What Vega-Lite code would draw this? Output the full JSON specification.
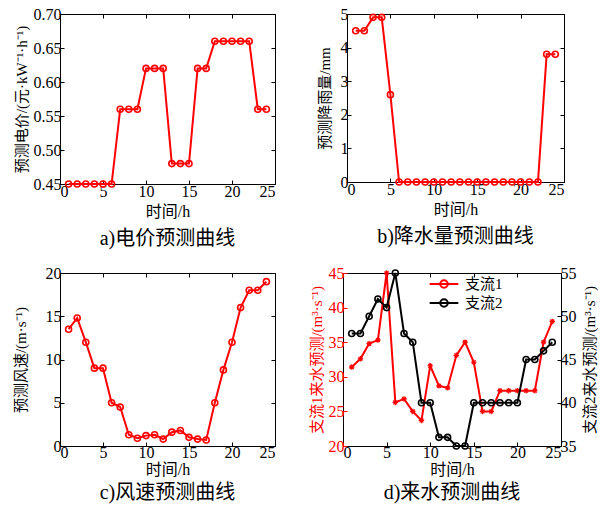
{
  "$schema": "https://vega.github.io/schema/vega-lite/v6.json",
  "padding": {"left": 12, "top": 5, "right": 0, "bottom": 0},
  "config": {
    "view": {"stroke": "black", "strokeWidth": 1},
    "axis": {"grid": false, "domain": false, "tickColor": "black", "tickSize": -4, "labelFont": "Liberation Serif", "labelFontSize": 16, "labelColor": "black", "titleFont": "Liberation Serif, Noto Sans CJK SC", "titleFontSize": 15, "titleFontWeight": "normal", "titleColor": "black", "labelPadding": 3, "titlePadding": 4},
    "axisX": {"titleFontSize": 16},
    "title": {"font": "Liberation Serif, Noto Sans CJK SC", "fontSize": 20, "fontWeight": "normal", "orient": "bottom", "anchor": "middle", "offset": 10, "color": "black"}
  },
  "datasets": {
    "price": [
      {"h":1,"v":0.45},{"h":2,"v":0.45},{"h":3,"v":0.45},{"h":4,"v":0.45},{"h":5,"v":0.45},{"h":6,"v":0.45},
      {"h":7,"v":0.56},{"h":8,"v":0.56},{"h":9,"v":0.56},{"h":10,"v":0.62},{"h":11,"v":0.62},{"h":12,"v":0.62},
      {"h":13,"v":0.48},{"h":14,"v":0.48},{"h":15,"v":0.48},{"h":16,"v":0.62},{"h":17,"v":0.62},{"h":18,"v":0.66},
      {"h":19,"v":0.66},{"h":20,"v":0.66},{"h":21,"v":0.66},{"h":22,"v":0.66},{"h":23,"v":0.56},{"h":24,"v":0.56}
    ],
    "rain": [
      {"h":1,"v":4.5},{"h":2,"v":4.5},{"h":3,"v":4.9},{"h":4,"v":4.9},{"h":5,"v":2.6},{"h":6,"v":0},
      {"h":7,"v":0},{"h":8,"v":0},{"h":9,"v":0},{"h":10,"v":0},{"h":11,"v":0},{"h":12,"v":0},
      {"h":13,"v":0},{"h":14,"v":0},{"h":15,"v":0},{"h":16,"v":0},{"h":17,"v":0},{"h":18,"v":0},
      {"h":19,"v":0},{"h":20,"v":0},{"h":21,"v":0},{"h":22,"v":0},{"h":23,"v":3.8},{"h":24,"v":3.8}
    ],
    "wind": [
      {"h":1,"v":13.5},{"h":2,"v":14.8},{"h":3,"v":12},{"h":4,"v":9},{"h":5,"v":9},{"h":6,"v":5},
      {"h":7,"v":4.5},{"h":8,"v":1.3},{"h":9,"v":0.9},{"h":10,"v":1.2},{"h":11,"v":1.3},{"h":12,"v":0.8},
      {"h":13,"v":1.6},{"h":14,"v":1.8},{"h":15,"v":1.0},{"h":16,"v":0.8},{"h":17,"v":0.7},{"h":18,"v":5},
      {"h":19,"v":8.8},{"h":20,"v":12},{"h":21,"v":16},{"h":22,"v":18},{"h":23,"v":18},{"h":24,"v":19}
    ],
    "flow": [
      {"h":1,"v":31.4,"s":"支流1"},{"h":2,"v":32.6,"s":"支流1"},{"h":3,"v":34.8,"s":"支流1"},{"h":4,"v":35.3,"s":"支流1"},
      {"h":5,"v":45,"s":"支流1"},{"h":6,"v":26.3,"s":"支流1"},{"h":7,"v":26.8,"s":"支流1"},{"h":8,"v":25,"s":"支流1"},
      {"h":9,"v":23.7,"s":"支流1"},{"h":10,"v":31.6,"s":"支流1"},{"h":11,"v":28.7,"s":"支流1"},{"h":12,"v":28.4,"s":"支流1"},
      {"h":13,"v":33.1,"s":"支流1"},{"h":14,"v":35,"s":"支流1"},{"h":15,"v":32.1,"s":"支流1"},{"h":16,"v":25,"s":"支流1"},
      {"h":17,"v":25,"s":"支流1"},{"h":18,"v":28,"s":"支流1"},{"h":19,"v":28,"s":"支流1"},{"h":20,"v":28,"s":"支流1"},
      {"h":21,"v":28,"s":"支流1"},{"h":22,"v":28,"s":"支流1"},{"h":23,"v":35,"s":"支流1"},{"h":24,"v":38,"s":"支流1"},
      {"h":1,"v":48,"s":"支流2"},{"h":2,"v":48,"s":"支流2"},{"h":3,"v":50,"s":"支流2"},{"h":4,"v":52,"s":"支流2"},
      {"h":5,"v":51,"s":"支流2"},{"h":6,"v":55,"s":"支流2"},{"h":7,"v":48,"s":"支流2"},{"h":8,"v":47,"s":"支流2"},
      {"h":9,"v":40,"s":"支流2"},{"h":10,"v":40,"s":"支流2"},{"h":11,"v":36,"s":"支流2"},{"h":12,"v":36,"s":"支流2"},
      {"h":13,"v":35,"s":"支流2"},{"h":14,"v":35,"s":"支流2"},{"h":15,"v":40,"s":"支流2"},{"h":16,"v":40,"s":"支流2"},
      {"h":17,"v":40,"s":"支流2"},{"h":18,"v":40,"s":"支流2"},{"h":19,"v":40,"s":"支流2"},{"h":20,"v":40,"s":"支流2"},
      {"h":21,"v":45,"s":"支流2"},{"h":22,"v":45,"s":"支流2"},{"h":23,"v":46,"s":"支流2"},{"h":24,"v":47,"s":"支流2"}
    ]
  },
  "vconcat": [
    {
      "spacing": 40,
      "hconcat": [
        {
          "width": 215, "height": 170,
          "title": "a)电价预测曲线",
          "data": {"name": "price"},
          "layer": [
            {
              "mark": {"type": "line", "color": "#ff0000", "strokeWidth": 2, "point": {"filled": false, "size": 36, "strokeWidth": 1.6, "color": "#ff0000"}},
              "encoding": {
                "x": {"field": "h", "type": "quantitative", "scale": {"domain": [0, 25], "nice": false}, "axis": {"values": [0,5,10,15,20,25], "title": "时间/h"}},
                "y": {"field": "v", "type": "quantitative", "scale": {"domain": [0.45, 0.70], "nice": false, "zero": false}, "axis": {"values": [0.45,0.5,0.55,0.6,0.65,0.7], "format": ".2f", "title": "预测电价/(元·kW⁻¹·h⁻¹)"}}
              }
            },
            {
              "mark": {"type": "line", "opacity": 0},
              "encoding": {
                "x": {"field": "h", "type": "quantitative", "axis": {"orient": "top", "values": [0,5,10,15,20,25], "labels": false, "title": null}},
                "y": {"field": "v", "type": "quantitative", "axis": {"orient": "right", "values": [0.45,0.5,0.55,0.6,0.65,0.7], "labels": false, "title": null}}
              }
            }
          ],
          "resolve": {"axis": {"x": "independent", "y": "independent"}}
        },
        {
          "width": 217, "height": 168,
          "title": "b)降水量预测曲线",
          "data": {"name": "rain"},
          "layer": [
            {
              "mark": {"type": "line", "color": "#ff0000", "strokeWidth": 2, "point": {"filled": false, "size": 36, "strokeWidth": 1.6, "color": "#ff0000"}},
              "encoding": {
                "x": {"field": "h", "type": "quantitative", "scale": {"domain": [0, 25], "nice": false}, "axis": {"values": [0,5,10,15,20,25], "title": "时间/h"}},
                "y": {"field": "v", "type": "quantitative", "scale": {"domain": [0, 5], "nice": false}, "axis": {"values": [0,1,2,3,4,5], "title": "预测降雨量/mm", "titlePadding": 8}}
              }
            },
            {
              "mark": {"type": "line", "opacity": 0},
              "encoding": {
                "x": {"field": "h", "type": "quantitative", "axis": {"orient": "top", "values": [0,5,10,15,20,25], "labels": false, "title": null}},
                "y": {"field": "v", "type": "quantitative", "axis": {"orient": "right", "values": [0,1,2,3,4,5], "labels": false, "title": null}}
              }
            }
          ],
          "resolve": {"axis": {"x": "independent", "y": "independent"}}
        }
      ]
    },
    {
      "spacing": 32,
      "hconcat": [
        {
          "width": 215, "height": 173,
          "title": {"text": "c)风速预测曲线", "offset": 6},
          "data": {"name": "wind"},
          "layer": [
            {
              "mark": {"type": "line", "color": "#ff0000", "strokeWidth": 2, "point": {"filled": false, "size": 36, "strokeWidth": 1.6, "color": "#ff0000"}},
              "encoding": {
                "x": {"field": "h", "type": "quantitative", "scale": {"domain": [0, 25], "nice": false}, "axis": {"values": [0,5,10,15,20,25], "title": "时间/h", "titlePadding": 1, "labelPadding": 2}},
                "y": {"field": "v", "type": "quantitative", "scale": {"domain": [0, 20], "nice": false}, "axis": {"values": [0,5,10,15,20], "title": "预测风速/(m·s⁻¹)", "titlePadding": 17}}
              }
            },
            {
              "mark": {"type": "line", "opacity": 0},
              "encoding": {
                "x": {"field": "h", "type": "quantitative", "axis": {"orient": "top", "values": [0,5,10,15,20,25], "labels": false, "title": null}},
                "y": {"field": "v", "type": "quantitative", "axis": {"orient": "right", "values": [0,5,10,15,20], "labels": false, "title": null}}
              }
            }
          ],
          "resolve": {"axis": {"x": "independent", "y": "independent"}}
        },
        {
          "width": 218, "height": 173,
          "title": {"text": "d)来水预测曲线", "offset": 6},
          "data": {"name": "flow"},
          "layer": [
            {
              "transform": [{"filter": "datum.s === '支流1'"}],
              "mark": {"type": "line", "strokeWidth": 2, "point": {"shape": "M-1,0H1M0,-1V1M-0.7,-0.7L0.7,0.7M-0.7,0.7L0.7,-0.7", "filled": false, "size": 30, "strokeWidth": 1.2}},
              "encoding": {
                "x": {"field": "h", "type": "quantitative", "scale": {"domain": [0, 25], "nice": false}, "axis": {"values": [0,5,10,15,20,25], "title": "时间/h", "titlePadding": 1, "labelPadding": 2}},
                "y": {"field": "v", "type": "quantitative", "scale": {"domain": [20, 45], "nice": false, "zero": false}, "axis": {"values": [20,25,30,35,40,45], "title": "支流1来水预测/(m³·s⁻¹)", "labelColor": "#ff0000", "titleColor": "#ff0000", "tickColor": "#ff0000"}},
                "color": {"field": "s", "type": "nominal", "scale": {"domain": ["支流1", "支流2"], "range": ["#ff0000", "#000000"]},
                  "legend": {"orient": "none", "legendX": 374, "legendY": 260, "direction": "vertical", "title": null, "labelFont": "Liberation Serif, Noto Sans CJK SC", "labelFontSize": 15, "labelColor": "black", "symbolType": "M-1.6,0H1.6M-0.42,0A0.42,0.42 0 1,0 0.42,0A0.42,0.42 0 1,0 -0.42,0", "symbolSize": 320, "symbolStrokeWidth": 2, "rowPadding": 1, "labelOffset": 11}}
              }
            },
            {
              "transform": [{"filter": "datum.s === '支流2'"}],
              "mark": {"type": "line", "strokeWidth": 2, "point": {"filled": false, "size": 36, "strokeWidth": 1.6}},
              "encoding": {
                "x": {"field": "h", "type": "quantitative", "axis": {"orient": "top", "values": [0,5,10,15,20,25], "labels": false, "title": null}},
                "y": {"field": "v", "type": "quantitative", "scale": {"domain": [35, 55], "nice": false, "zero": false}, "axis": {"orient": "right", "values": [35,40,45,50,55], "title": "支流2来水预测/(m³·s⁻¹)", "titleAngle": 270, "titleBaseline": "top", "titlePadding": 6}},
                "color": {"field": "s", "type": "nominal"}
              }
            }
          ],
          "resolve": {"scale": {"y": "independent"}, "axis": {"x": "independent"}}
        }
      ]
    }
  ],
  "spacing": 14
}
